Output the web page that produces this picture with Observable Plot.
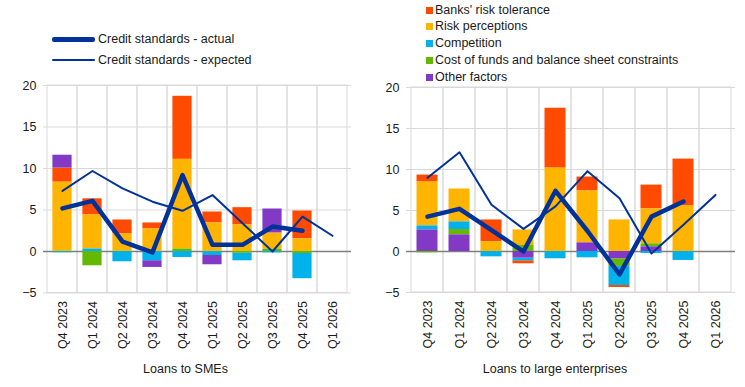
<!DOCTYPE html>
<html><head><meta charset="utf-8">
<script src="https://cdn.jsdelivr.net/npm/d3@7"></script>
<script src="https://cdn.jsdelivr.net/npm/@observablehq/plot@0.6"></script>
<style>
body{margin:0;background:#fff;font-family:"Liberation Sans",Arial,sans-serif;color:#1a1a1a;}
#wrap{position:relative;width:745px;height:387px;overflow:hidden;background:#fff}
#left,#right{position:absolute;top:78px;z-index:1}
#left{left:0}
#right{left:372px}
#legends{position:absolute;left:0;top:0;width:745px;height:90px;z-index:2;pointer-events:none}
.ptitle{position:absolute;top:360px;font-size:12.5px;text-align:center;height:18px;line-height:18px}
#t1{left:0;width:372px;padding-right:1px;box-sizing:border-box}
#t2{left:372px;width:373px;padding-right:7px;box-sizing:border-box}
.lrow{position:absolute;left:52px;height:16px;font-size:12.5px;line-height:16px;white-space:nowrap}
.lrow .sample{position:absolute;left:0;width:43px;background:#003299;border-radius:2px}
.lrow span{position:absolute;left:46px;top:0}
.brow{position:absolute;left:426px;height:16px;font-size:12.5px;line-height:16px;white-space:nowrap}
.brow i{position:absolute;left:0;top:5px;width:7px;height:7px}
.brow span{position:absolute;left:9px;top:0}
</style></head><body>
<div id="wrap">
  <div id="left"></div>
  <div id="right"></div>
  <div id="legends"></div>
  <div class="ptitle" id="t1">Loans to SMEs</div>
  <div class="ptitle" id="t2">Loans to large enterprises</div>
</div>
<script>
const quarters = ["Q4 2023","Q1 2024","Q2 2024","Q3 2024","Q4 2024","Q1 2025","Q2 2025","Q3 2025","Q4 2025","Q1 2026"];
const seriesNames = ["Banks' risk tolerance","Risk perceptions","Competition","Cost of funds and balance sheet constraints","Other factors"];
const seriesColors = ["#FF4B00","#FFB400","#00B1EA","#65B800","#8139C6"];
const lineNames = ["Credit standards - actual","Credit standards - expected"];
const yTicks = [-5,0,5,10,15,20];

// Loans to SMEs (Q4 2023 .. Q4 2025)
const smeRiskTolerance = [1.7, 1.95, 1.68, 0.72, 7.6, 1.32, 2.08, 0, 3.36];
const smeRiskPerceptions = [8.35, 4.1, 2.12, 2.72, 10.8, 3.44, 3.2, 1.96, 1.52];
const smeCompetition = [-0.15, 0.3, -1.24, -1.12, -0.72, -0.48, -0.92, -0.16, -3.04];
const smeCostOfFunds = [0, -1.72, 0, 0, 0.3, 0, -0.2, 0.28, -0.24];
const smeOther = [1.55, 0, 0, -0.8, 0, -1.12, 0, 2.88, 0];
const smeActual = [5.2, 6.1, 1.2, -0.1, 9.2, 0.8, 0.8, 3.0, 2.5];
const smeExpected = [7.3, 9.7, 7.6, 6.0, 4.9, 6.8, 3.4, 0.0, 4.2, 1.9];

// Loans to large enterprises (Q4 2023 .. Q4 2025)
const leRiskTolerance = [0.85, 0, 2.67, -0.37, 7.3, 1.7, -0.24, 2.91, 5.72];
const leRiskPerceptions = [5.35, 4.01, 1.18, 1.9, 10.17, 6.33, 3.85, 4.26, 5.55];
const leCompetition = [0.49, 0.93, -0.65, -0.32, -0.89, -0.77, -2.33, -0.24, -1.09];
const leCostOfFunds = [-0.16, 0.65, 0, 0.73, 0, 0, -0.93, 0.36, 0];
const leOther = [2.63, 2.03, 0, -0.81, 0, 1.05, -0.89, 0.57, 0];
const leActual = [4.25, 5.2, 2.6, 0.0, 7.4, 2.5, -2.8, 4.25, 6.1];
const leExpected = [9.0, 12.1, 5.7, 2.76, 5.5, 9.8, 6.5, -0.25, 3.25, 6.9];

// stacking orders (from zero outward)
const smeOrder = ["Cost of funds and balance sheet constraints","Competition","Risk perceptions","Banks' risk tolerance","Other factors"];
const leOrder = ["Other factors","Cost of funds and balance sheet constraints","Competition","Risk perceptions","Banks' risk tolerance"];

function toBars(arrs){
  const out = [];
  arrs.forEach((arr, k) => arr.forEach((v, i) => out.push({q: quarters[i], s: seriesNames[k], v})));
  return out;
}
function toLine(arr){ return arr.map((v, i) => ({q: quarters[i], v})); }

function panel(opts){
  return Plot.plot({
    width: opts.width, height: 280,
    marginTop: opts.marginTop, marginBottom: opts.marginBottom,
    marginLeft: opts.marginLeft, marginRight: opts.marginRight,
    style: {fontFamily: "'Liberation Sans', Arial, sans-serif", fontSize: "12.5px", color: "#1a1a1a", background: "transparent", overflow: "visible"},
    x: {domain: quarters, padding: 0, axis: null},
    y: {domain: [-5, 20], axis: null},
    color: {domain: seriesNames, range: seriesColors},
    marks: [
      Plot.gridY(yTicks, {stroke: "#d9d9d9", strokeOpacity: 1}),
      Plot.cell(quarters, {x: d => d, fill: "none", stroke: "#d9d9d9"}),
      Plot.axisY(yTicks, {tickSize: 0, tickPadding: 7, fontSize: 12.5, label: null}),
      Plot.axisX({tickRotate: -90, tickSize: 0, tickPadding: 8, fontSize: 12.5, label: null}),
      Plot.ruleY([0], {stroke: "#7f7f7f", strokeWidth: 1.3}),
      Plot.barY(opts.bars, {x: "q", y: "v", fill: "s", order: opts.order, insetLeft: opts.inset, insetRight: opts.inset}),
      Plot.line(opts.expected, {x: "q", y: "v", stroke: "#003299", strokeWidth: 2}),
      Plot.line(opts.actual, {x: "q", y: "v", stroke: "#003299", strokeWidth: 4.5, strokeLinejoin: "round", strokeLinecap: "round"})
    ]
  });
}

document.getElementById("left").appendChild(panel({
  width: 372, marginTop: 7, marginBottom: 65.5, marginLeft: 43, marginRight: 21, inset: 5.4,
  bars: toBars([smeRiskTolerance, smeRiskPerceptions, smeCompetition, smeCostOfFunds, smeOther]),
  order: smeOrder, actual: toLine(smeActual), expected: toLine(smeExpected)
}));
document.getElementById("right").appendChild(panel({
  width: 373, marginTop: 9, marginBottom: 66, marginLeft: 34, marginRight: 10, inset: 5.5,
  bars: toBars([leRiskTolerance, leRiskPerceptions, leCompetition, leCostOfFunds, leOther]),
  order: leOrder, actual: toLine(leActual), expected: toLine(leExpected)
}));

// legends
const leg = document.getElementById("legends");
const lineTops = [31, 52];
const lineWidths = [5, 2];
lineNames.forEach((n, i) => {
  const r = document.createElement("div");
  r.className = "lrow"; r.style.top = lineTops[i] + "px";
  const s = document.createElement("div"); s.className = "sample";
  s.style.height = lineWidths[i] + "px"; s.style.top = (8 - lineWidths[i] / 2) + "px";
  const t = document.createElement("span"); t.textContent = n;
  r.appendChild(s); r.appendChild(t); leg.appendChild(r);
});
seriesNames.forEach((n, i) => {
  const r = document.createElement("div");
  r.className = "brow"; r.style.top = (1.5 + i * 16.8) + "px";
  const s = document.createElement("i"); s.style.background = seriesColors[i];
  const t = document.createElement("span"); t.textContent = n;
  r.appendChild(s); r.appendChild(t); leg.appendChild(r);
});
</script>
</body></html>
